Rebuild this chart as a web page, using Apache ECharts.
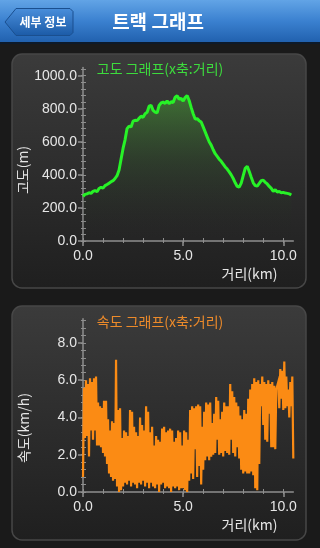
<!DOCTYPE html>
<html><head><meta charset="utf-8">
<script src="https://cdn.jsdelivr.net/npm/echarts@6/dist/echarts.min.js"></script>
<style>html,body{margin:0;padding:0;background:#1a1a1a;}#c{width:320px;height:548px;}</style>
</head><body><div id="c"></div>
<script>
// ---- data ----
const elevTitle = '고도 그래프(x축:거리)';
const speedTitle = '속도 그래프(x축:거리)';
const distName = '거리(km)';
const elevName = '고도(m)';
const speedName = '속도(km/h)';
const elevStep = 0.1;   // km between elevation samples
const elevation = [270,282,285,292,288,300,305,298,318,325,
  320,335,342,350,358,365,378,395,430,495,
  560,612,680,695,690,725,730,728,742,755,
  748,770,778,815,820,790,780,775,820,835,
  840,832,848,830,842,838,870,878,858,862,
  846,868,880,850,808,770,738,740,728,720,
  690,660,630,600,580,552,528,512,495,482,
  465,448,435,418,400,378,352,330,326,350,
  395,440,452,420,385,352,335,332,348,365,
  368,355,345,330,318,300,310,296,300,292,
  294,290,288,285,278];
const speedStep = 0.05; // km between speed samples
const speed = [0.8,5.6, 2.9,6.0, 3.0,5.8, 1.9,6.1, 3.3,5.9, 2.8,6.1, 3.3,6.2, 2.5,4.8, 2.5,4.6, 2.4,4.5,
  2.1,4.9, 1.9,4.9, 1.5,3.9, 1.0,3.3, 0.8,3.8, 0.6,3.7, 0.7,7.1, 0.3,4.4, 0.0,4.5, 0.1,2.9,
  0.3,3.3, 0.5,3.2, 0.4,3.0, 0.6,4.4, 0.3,4.3, 0.5,3.5, 0.4,3.2, 0.2,3.0, 0.5,4.0, 0.4,3.6,
  0.6,3.3, 0.3,4.6, 0.5,4.3, 0.2,3.2, 0.5,3.5, 0.3,2.5, 0.2,3.0, 0.4,2.8, 0.0,2.7, 0.4,3.4,
  0.5,3.5, 0.2,3.2, 0.3,3.3, 0.2,3.4, 0.0,3.3, 0.3,2.7, 0.2,2.9, 0.3,3.3, 0.1,3.2, 0.2,2.5,
  0.2,3.3, 0.1,3.2, 0.0,2.8, 0.6,4.4, 1.0,4.6, 0.7,4.5, 2.3,4.6, 0.8,4.7, 1.4,4.6, 0.4,3.5,
  1.2,4.3, 1.7,4.8, 1.9,4.7, 1.7,4.8, 1.9,3.7, 2.0,4.2, 2.1,5.1, 2.8,4.9, 2.0,3.9, 2.1,4.3,
  1.9,4.8, 2.2,4.6, 2.1,4.6, 2.0,5.8, 2.8,5.4, 2.1,5.1, 1.9,4.8, 2.4,4.6, 1.8,4.1, 1.2,3.9,
  1.0,4.4, 1.1,4.2, 1.0,5.0, 1.0,5.5, 1.1,5.8, 0.9,6.1, 0.2,5.9, 0.1,6.0, 1.5,5.8, 4.6,6.2,
  3.6,5.9, 2.8,5.8, 2.7,6.0, 4.2,5.8, 2.4,5.9, 2.4,5.7, 2.3,5.5, 5.6,5.9, 4.5,6.6, 5.0,6.5,
  4.4,7.0, 4.5,6.2, 4.6,5.5, 4.0,5.9, 4.6,6.2, 1.8];
const elevLabels = [0,200,400,600,800,1000];
const speedLabels = [0,2,4,6,8];
const distLabels = [0,5,10];
const headerTitle = '트랙 그래프';
const backLabel = '세부 정보';

// ---- chart ----
const chart = echarts.init(document.getElementById('c'), null, {renderer:'canvas'});
const axisCol = '#8e8e8e';
const latin = '"Liberation Sans", Arial, sans-serif';
const kr = '"Noto Sans CJK KR", sans-serif';

function range(a, b, s){ const r=[]; for(let v=a; v<=b+1e-9; v+=s) r.push(Math.round(v*1000)/1000); return r; }

function axisSet(gridIndex, min, max, labels, minors, margin){
  const base = {type:'value', gridIndex, min, max, splitLine:{show:false}};
  return [
    Object.assign({}, base, {
      axisLine:{show:true, onZero:false, lineStyle:{color:axisCol, width:1.5}},
      axisLabel:{show:true, customValues:labels, formatter:v=>Number(v).toFixed(1), color:'#e6e6e6', fontSize:14, fontFamily:latin, margin},
      axisTick:{show:true, customValues:labels, length:5, lineStyle:{color:axisCol, width:1.5}}
    }),
    Object.assign({}, base, {
      axisLine:{show:false}, axisLabel:{show:false},
      axisTick:{show:true, inside:true, customValues:labels, length:4, lineStyle:{color:axisCol, width:1.5}}
    }),
    Object.assign({}, base, {
      axisLine:{show:false}, axisLabel:{show:false},
      axisTick:{show:true, customValues:minors, length:3, lineStyle:{color:axisCol, width:1}}
    }),
    Object.assign({}, base, {
      axisLine:{show:false}, axisLabel:{show:false},
      axisTick:{show:true, inside:true, customValues:minors, length:2, lineStyle:{color:axisCol, width:1}}
    })
  ];
}

const distMax = 10.5;
const xAxes = [].concat(
  axisSet(0, 0, distMax, distLabels, range(0,10,1), 8),
  axisSet(1, 0, distMax, distLabels, range(0,10,1), 8)
);
const yAxes = [].concat(
  axisSet(0, 0, 1050, elevLabels, range(0,1040,40), 6),
  axisSet(1, 0, 9.3, speedLabels, range(0,9.2,0.4), 6)
);

const elevData = elevation.map((v,i)=>[Math.round(i*elevStep*100)/100, v]);
const speedData = speed.map((v,i)=>[Math.round(i*speedStep*100)/100, v]);

function panel(y){
  return {type:'rect', z:-10, shape:{x:12, y:y, width:294, height:234, r:10},
    style:{fill:new echarts.graphic.LinearGradient(0,0,0,1,[{offset:0,color:'#3b3b3b'},{offset:1,color:'#1f1f1f'}]), stroke:'#474747', lineWidth:1.5}};
}
function txt(text, x, y, fill, font, rot){
  const o = {type:'text', z:100, x, y, style:{text, x:0, y:0, fill, font, textAlign:'center', textVerticalAlign:'middle'}};
  if (rot) o.rotation = rot;
  return o;
}

const option = {
  backgroundColor:'#1a1a1a',
  animation:false,
  grid:[
    {left:83, right:26.7, top:67.4, bottom:307},
    {left:83, right:26.7, top:318.7, bottom:56}
  ],
  xAxis: xAxes,
  yAxis: yAxes,
  series:[
    {type:'line', xAxisIndex:0, yAxisIndex:0, data:elevData, showSymbol:false, symbol:'none',
      lineStyle:{color:'#27f227', width:3}, z:3,
      areaStyle:{color:new echarts.graphic.LinearGradient(0,0,0,1,[
        {offset:0,color:'rgba(70,165,50,0.75)'},
        {offset:0.45,color:'rgba(45,90,38,0.45)'},
        {offset:1,color:'rgba(30,30,30,0)'}])}},
    {type:'line', xAxisIndex:4, yAxisIndex:4, data:speedData, showSymbol:false, symbol:'none',
      lineStyle:{color:'#fb8b14', width:2.2, join:'miter'}, z:3}
  ],
  graphic:{elements:[
    // header
    {type:'rect', z:-5, shape:{x:0,y:0,width:320,height:43},
      style:{fill:new echarts.graphic.LinearGradient(0,0,0,1,[{offset:0,color:'#62a4e6'},{offset:0.5,color:'#3a80cf'},{offset:1,color:'#2060ad'}])}},
    {type:'rect', z:-5, shape:{x:0,y:42,width:320,height:2}, style:{fill:'#0d1a2a'}},
    {type:'polygon', z:-4, shape:{points:[[5,22],[16,8.5],[70,8.5],[73,11.5],[73,32.5],[70,35.5],[16,35.5]]},
      style:{fill:new echarts.graphic.LinearGradient(0,0,0,1,[{offset:0,color:'#4a8fdc'},{offset:1,color:'#1b5aa6'}]), stroke:'#1a4f8f', lineWidth:1}},
    txt(backLabel, 43, 22, '#ffffff', 'bold 12px '+kr),
    txt(headerTitle, 158, 22, '#ffffff', 'bold 19px '+kr),
    // panels
    panel(54), panel(306),
    txt(elevTitle, 160, 69, '#3ddb3d', '14px '+kr),
    txt(speedTitle, 160, 322, '#ec8a2a', '14px '+kr),
    txt(distName, 249.5, 273.5, '#e6e6e6', '14px '+kr),
    txt(distName, 249.5, 525, '#e6e6e6', '14px '+kr),
    txt(elevName, 23, 170, '#e6e6e6', '14px '+kr, Math.PI/2),
    txt(speedName, 24, 428, '#e6e6e6', '14px '+kr, Math.PI/2)
  ]}
};
chart.setOption(option);
</script></body></html>
